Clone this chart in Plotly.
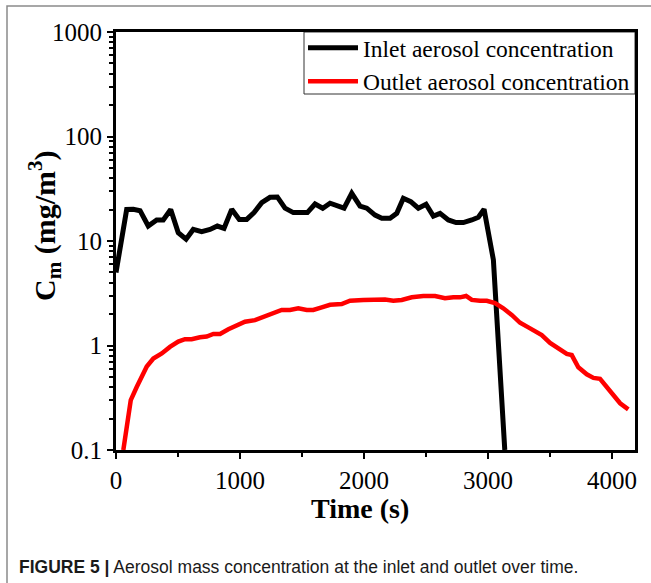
import plotly.graph_objects as go

# Inlet aerosol mass concentration (mg/m^3) versus time (s)
inlet_time = [0, 86, 140, 194, 260, 328, 381, 441, 502, 565, 623, 691, 758, 817,
              871, 933, 994, 1054, 1113, 1175, 1242, 1301, 1363, 1430, 1484, 1543,
              1605, 1667, 1726, 1785, 1839, 1901, 1968, 2022, 2089, 2143, 2210,
              2264, 2317, 2377, 2438, 2500, 2559, 2613, 2680, 2742, 2801, 2869,
              2922, 2968, 3043, 3135]
inlet_conc = [5.0, 20.0, 20.1, 19.5, 13.9, 15.9, 15.9, 20.0, 12.0, 10.4, 12.9, 12.3,
              12.9, 13.9, 13.2, 20.1, 16.1, 16.1, 18.7, 23.3, 26.2, 26.4, 20.6, 18.7,
              18.7, 18.7, 22.6, 20.6, 23.0, 22.0, 20.6, 28.6, 21.6, 20.6, 17.7, 16.5,
              16.5, 18.4, 25.6, 23.8, 20.6, 22.5, 17.3, 18.4, 15.9, 15.0, 15.0, 15.9,
              16.9, 20.1, 6.6, 0.1]

# Outlet aerosol mass concentration (mg/m^3) versus time (s)
outlet_time = [59, 119, 167, 207, 248, 301, 369, 435, 502, 556, 610, 677, 731, 785,
               839, 906, 973, 1040, 1121, 1188, 1256, 1336, 1403, 1470, 1538, 1591,
               1659, 1726, 1820, 1887, 1994, 2115, 2169, 2236, 2304, 2385, 2478,
               2573, 2653, 2720, 2774, 2823, 2869, 2935, 2990, 3056, 3123, 3191,
               3258, 3325, 3393, 3433, 3500, 3567, 3635, 3675, 3728, 3796, 3850,
               3903, 3957, 4010, 4065, 4131]
outlet_conc = [0.10, 0.30, 0.40, 0.50, 0.63, 0.75, 0.84, 0.97, 1.09, 1.15, 1.15, 1.20,
               1.22, 1.29, 1.29, 1.43, 1.57, 1.69, 1.75, 1.89, 2.00, 2.19, 2.19, 2.27,
               2.19, 2.19, 2.32, 2.45, 2.49, 2.68, 2.73, 2.73, 2.75, 2.68, 2.73, 2.89,
               2.98, 2.98, 2.83, 2.89, 2.89, 2.98, 2.73, 2.68, 2.68, 2.54, 2.27, 1.96,
               1.65, 1.49, 1.36, 1.26, 1.06, 0.94, 0.83, 0.81, 0.62, 0.53, 0.49, 0.48,
               0.40, 0.34, 0.28, 0.245]

series_names = ["Inlet aerosol concentration", "Outlet aerosol concentration"]
x_ticks = [0, 1000, 2000, 3000, 4000]
y_ticks = [0.1, 1, 10, 100, 1000]
y_tick_text = ["0.1", "1", "10", "100", "1000"]

W, H = 651, 583
ML, MR, MT, MB = 116, 16, 32, 133
PW, PH = W - ML - MR, H - MT - MB


def px(x):
    """Pixel column -> paper x."""
    return (x - ML) / PW


def py(y):
    """Pixel row -> paper y."""
    return (H - MB - y) / PH


SERIF = "Liberation Serif"

fig = go.Figure()
fig.add_trace(go.Scatter(x=inlet_time, y=inlet_conc, mode="lines",
                         name=series_names[0],
                         line=dict(color="black", width=5)))
fig.add_trace(go.Scatter(x=outlet_time, y=outlet_conc, mode="lines",
                         name=series_names[1],
                         line=dict(color="#ff0000", width=4.5)))

axis_common = dict(showline=True, linecolor="black", linewidth=3, mirror=True,
                   showgrid=False, zeroline=False, ticks="outside",
                   tickcolor="black", tickwidth=2, ticklen=6,
                   tickfont=dict(family=SERIF, size=25, color="black"))

fig.update_xaxes(range=[0, 4185], tickvals=x_ticks,
                 minor=dict(ticks="outside", dtick=500, tick0=0, ticklen=4,
                            tickwidth=2, tickcolor="black", showgrid=False),
                 **axis_common)
fig.update_yaxes(type="log", range=[-1, 3], tickvals=y_ticks, ticktext=y_tick_text,
                 minor=dict(ticks="outside", dtick="D1", ticklen=4,
                            tickwidth=2, tickcolor="black", showgrid=False),
                 **axis_common)

# axis titles
fig.add_annotation(text="<b>Time (s)</b>",
                   xref="paper", yref="paper", x=px(360), y=py(508),
                   xanchor="center", yanchor="middle", showarrow=False,
                   font=dict(family=SERIF, size=28, color="black"))
fig.add_annotation(text="<b>C<sub>m</sub> (mg/m<sup>3</sup>)</b>",
                   xref="paper", yref="paper", x=px(44), y=py(226),
                   xanchor="center", yanchor="middle", textangle=-90,
                   showarrow=False,
                   font=dict(family=SERIF, size=30, color="black"))

# figure caption
fig.add_annotation(text="<b>FIGURE 5 |</b> Aerosol mass concentration at the inlet and outlet over time.",
                   xref="paper", yref="paper", x=px(17), y=py(567),
                   xanchor="left", yanchor="middle", showarrow=False,
                   font=dict(family="Liberation Sans", size=17.5, color="#1a1a1a"))

# frame around the figure
fig.add_shape(type="rect", xref="paper", yref="paper",
              x0=px(7), y0=py(H + 20), x1=px(W + 20), y1=py(6),
              line=dict(color="#8a8a8a", width=1.5), fillcolor="rgba(0,0,0,0)")

# legend box
fig.add_shape(type="rect", xref="paper", yref="paper", layer="below",
              x0=px(304), y0=py(94), x1=1, y1=1,
              line=dict(color="#333333", width=1), fillcolor="white")

fig.update_layout(
    width=W, height=H,
    margin=dict(l=ML, r=MR, t=MT, b=MB),
    paper_bgcolor="white", plot_bgcolor="white",
    showlegend=True,
    legend=dict(x=1, y=py(26), xanchor="right", yanchor="top",
                bgcolor="rgba(0,0,0,0)", borderwidth=0,
                font=dict(family=SERIF, size=23.5, color="black"),
                itemwidth=50, tracegroupgap=0),
)

fig.write_html("out.html")
